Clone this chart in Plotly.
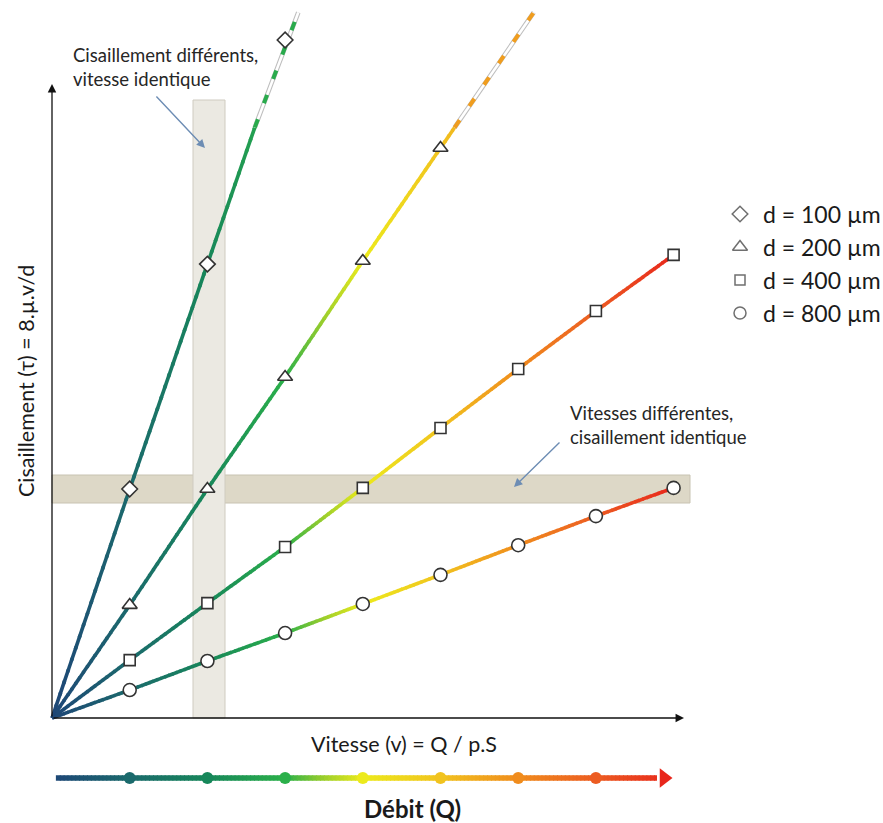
import numpy as np
import plotly.graph_objects as go

# ---------------- data ----------------
velocity = [1, 2, 3, 4, 5, 6, 7, 8]
tau_d100 = [7.95, 15.76, 23.54]
tau_d200 = [3.92, 7.95, 11.84, 15.87, 19.79]
tau_d400 = [2.01, 3.99, 5.94, 7.99, 10.07, 12.12, 14.13, 16.08]
tau_d800 = [0.97, 1.98, 2.95, 3.96, 4.97, 6.00, 7.01, 7.99]

# where the steep lines leave the drawing (end of dashed extension)
end_d100 = (3.17, 24.5)
end_d200 = (6.20, 24.5)
dash_from_tau = 20.5          # lines become dashed above this shear value

legend_labels = ["d = 100 µm", "d = 200 µm", "d = 400 µm", "d = 800 µm"]

debit_dots = [1, 2, 3, 4, 5, 6, 7]

# colour of the flow (débit) as a function of velocity
grad_stops_v = [0, 1, 2, 3, 3.5, 4, 5, 6, 7, 8]
grad_stops_c = ["#1e4677", "#1b6a6c", "#17875a", "#2bb04a", "#9ccf2c", "#ecea1c",
                "#f1c31f", "#f08c1d", "#ec5c22", "#e8261b"]

# ---------------- geometry helpers (pixel -> data) ----------------
W, H = 883, 823
OX, OY = 52.0, 718.0
PXV, PXT = 77.7, 28.8
FONT = "Lato"


def pxv(px):
    return (px - OX) / PXV


def pyt(py):
    return (OY - py) / PXT


def hex2rgb(h):
    h = h.lstrip("#")
    return [int(h[i:i + 2], 16) for i in (0, 2, 4)]


stop_rgb = np.array([hex2rgb(c) for c in grad_stops_c], dtype=float)


def color_at(v):
    r = np.interp(v, grad_stops_v, stop_rgb[:, 0])
    g = np.interp(v, grad_stops_v, stop_rgb[:, 1])
    b = np.interp(v, grad_stops_v, stop_rgb[:, 2])
    return "rgb(%d,%d,%d)" % (round(r), round(g), round(b))


# series paths (start at origin)
series = []
for taus, end in [(tau_d100, end_d100), (tau_d200, end_d200), (tau_d400, None), (tau_d800, None)]:
    vs = [0.0] + velocity[:len(taus)]
    ts = [0.0] + list(taus)
    if end is not None:
        vs = vs + [end[0]]
        ts = ts + [end[1]]
        vdash = float(np.interp(dash_from_tau, ts, vs))
    else:
        vdash = vs[-1]
    series.append((vs, ts, vdash, end is not None))

fig = go.Figure()

# ---------------- gradient solid lines ----------------
step = 0.05
edges = np.arange(0.0, 8.0 + step / 2, step)
bar_y = pyt(778)
bar_end = pxv(657)
for a, b in zip(edges[:-1], edges[1:]):
    xs, ys = [], []
    for vs, ts, vdash, _ in series:
        if a >= vdash:
            continue
        bb = min(b + 0.012, vdash)
        xs += [a, bb, None]
        ys += [float(np.interp(a, vs, ts)), float(np.interp(bb, vs, ts)), None]
    if xs:
        fig.add_trace(go.Scatter(x=xs, y=ys, mode="lines",
                                 line=dict(color=color_at((a + b) / 2), width=3.6),
                                 hoverinfo="skip", showlegend=False))

# Débit bar below the chart (same gradient)
for a, b in zip(edges[:-1], edges[1:]):
    if a < 0.03 or a >= bar_end:
        continue
    bb = min(b + 0.012, bar_end)
    fig.add_trace(go.Scatter(x=[a, bb], y=[bar_y, bar_y], mode="lines",
                             line=dict(color=color_at((a + b) / 2), width=5.5),
                             hoverinfo="skip", showlegend=False))

# ---------------- dashed extensions ----------------
for vs, ts, vdash, has_ext in series:
    if not has_ext:
        continue
    x_ext = [vdash, vs[-1]]
    y_ext = [float(np.interp(vdash, vs, ts)), ts[-1]]
    fig.add_trace(go.Scatter(x=x_ext, y=y_ext, mode="lines",
                             line=dict(color="#bdbdbd", width=4.6),
                             hoverinfo="skip", showlegend=False))
    fig.add_trace(go.Scatter(x=x_ext, y=y_ext, mode="lines",
                             line=dict(color="white", width=2.6),
                             hoverinfo="skip", showlegend=False))
    fig.add_trace(go.Scatter(x=x_ext, y=y_ext, mode="lines",
                             line=dict(color=color_at((vdash + vs[-1]) / 2), width=4, dash="9px,17px"),
                             hoverinfo="skip", showlegend=False))

# ---------------- markers ----------------
sizes = [12, 13, 11, 13]
all_taus = [tau_d100, tau_d200, tau_d400, tau_d800]
for taus, sym, sz, lab in zip(all_taus, ["diamond", "triangle-up", "square", "circle"], sizes, legend_labels):
    fig.add_trace(go.Scatter(x=velocity[:len(taus)], y=taus, mode="markers", name=lab,
                             marker=dict(symbol=sym, size=sz, color="white",
                                         line=dict(color="#333333", width=1.6)),
                             showlegend=False))

# ---------------- Débit dots and arrowhead ----------------
fig.add_trace(go.Scatter(x=debit_dots, y=[bar_y] * len(debit_dots), mode="markers",
                         marker=dict(size=12, color=[color_at(v) for v in debit_dots], line=dict(width=0)),
                         hoverinfo="skip", showlegend=False))
fig.add_trace(go.Scatter(x=[pxv(664)], y=[bar_y], mode="markers",
                         marker=dict(symbol="triangle-right", size=17, color=color_at(8), line=dict(width=0)),
                         hoverinfo="skip", showlegend=False))

# ---------------- manual legend ----------------
leg_y = [214, 247, 280, 313]
fig.add_trace(go.Scatter(x=[pxv(740)] * 4, y=[pyt(y) for y in leg_y], mode="markers",
                         marker=dict(symbol=["diamond", "triangle-up", "square", "circle"], size=[12, 13, 10, 12],
                                     color="white", line=dict(color="#333333", width=1.5)),
                         hoverinfo="skip", showlegend=False))

annotations = []
for lab, y in zip(legend_labels, leg_y):
    annotations.append(dict(x=pxv(761), y=pyt(y), text=lab, showarrow=False, xanchor="left",
                            yanchor="middle", font=dict(size=23, family=FONT, color="#1a1a1a")))

# axes arrows
annotations.append(dict(x=pxv(684), y=0, ax=0, ay=0, axref="x", ayref="y", text="", showarrow=True,
                        arrowhead=2, arrowsize=1.3, arrowwidth=1.3, arrowcolor="#111"))
annotations.append(dict(x=0, y=pyt(84), ax=0, ay=0, axref="x", ayref="y", text="", showarrow=True,
                        arrowhead=2, arrowsize=1.3, arrowwidth=1.3, arrowcolor="#111"))

# callout arrows
annotations.append(dict(x=pxv(205), y=pyt(148), ax=pxv(155), ay=pyt(95), axref="x", ayref="y", text="",
                        showarrow=True, arrowhead=2, arrowsize=1.2, arrowwidth=1.4, arrowcolor="#6d8db4"))
annotations.append(dict(x=pxv(514), y=pyt(487), ax=pxv(561), ay=pyt(441), axref="x", ayref="y", text="",
                        showarrow=True, arrowhead=2, arrowsize=1.2, arrowwidth=1.4, arrowcolor="#6d8db4"))

# callout texts
annotations.append(dict(x=pxv(71), y=pyt(67), text="Cisaillement différents,<br>vitesse identique",
                        showarrow=False, xanchor="left", yanchor="middle", align="left",
                        font=dict(size=18.5, family=FONT, color="#262626")))
annotations.append(dict(x=pxv(568), y=pyt(425), text="Vitesses différentes,<br>cisaillement identique",
                        showarrow=False, xanchor="left", yanchor="middle", align="left",
                        font=dict(size=18.5, family=FONT, color="#262626")))

# axis titles
annotations.append(dict(x=pxv(404), y=pyt(744), text="Vitesse (v) = Q / p.S", showarrow=False,
                        xanchor="center", yanchor="middle", font=dict(size=21.5, family=FONT, color="#1a1a1a")))
annotations.append(dict(x=pxv(26), y=pyt(381), text="Cisaillement (τ) = 8.µ.v/d", showarrow=False,
                        textangle=-90, xanchor="center", yanchor="middle",
                        font=dict(size=21.5, family=FONT, color="#1a1a1a")))
annotations.append(dict(x=pxv(412), y=pyt(808), text="<b>Débit (Q)</b>", showarrow=False,
                        xanchor="center", yanchor="middle", font=dict(size=24, family=FONT, color="#1a1a1a")))

shapes = [
    dict(type="rect", x0=0, x1=pxv(690), y0=pyt(503), y1=pyt(475), layer="below",
         fillcolor="#ddd8c7", line=dict(color="#c8c3b2", width=1)),
    dict(type="rect", x0=pxv(193), x1=pxv(225), y0=0, y1=pyt(100), layer="below",
         fillcolor="#ebe9e2", line=dict(color="#cfcbc0", width=1)),
]

fig.update_layout(
    width=W, height=H,
    margin=dict(l=0, r=0, t=0, b=0, pad=0),
    paper_bgcolor="white", plot_bgcolor="white",
    showlegend=False,
    annotations=annotations,
    shapes=shapes,
    xaxis=dict(range=[pxv(0), pxv(W)], visible=False, fixedrange=True),
    yaxis=dict(range=[pyt(H), pyt(0)], visible=False, fixedrange=True),
)

fig.write_html("out.html", config=dict(displayModeBar=False),
               post_script="document.body.style.margin='0';document.body.style.overflow='hidden';")
